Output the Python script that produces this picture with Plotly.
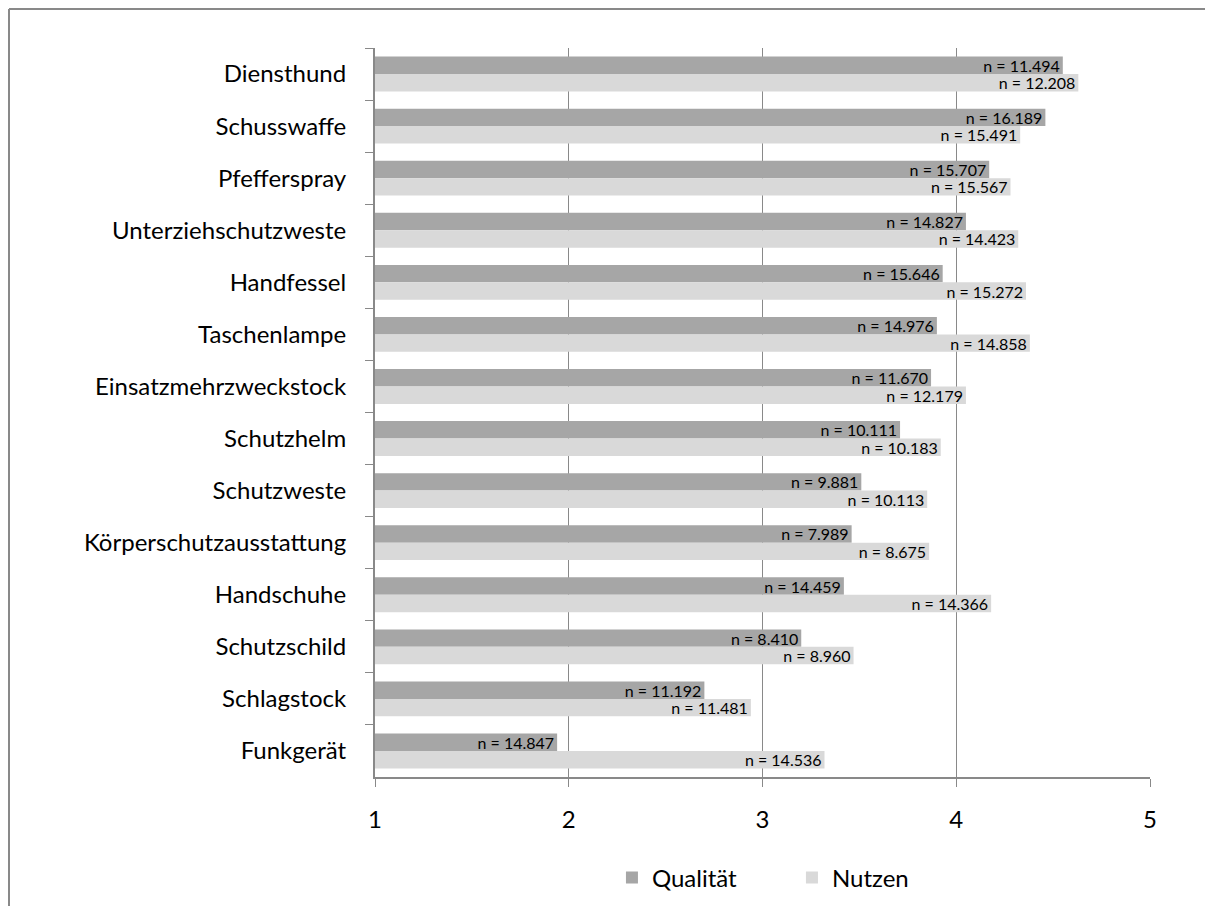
import plotly.graph_objects as go

FONT = "Lato"
GRID = "#898989"

categories = [
    "Diensthund", "Schusswaffe", "Pfefferspray", "Unterziehschutzweste", "Handfessel",
    "Taschenlampe", "Einsatzmehrzweckstock", "Schutzhelm", "Schutzweste",
    "Körperschutzausstattung", "Handschuhe", "Schutzschild", "Schlagstock", "Funkgerät",
]
qualitaet = [4.55, 4.46, 4.17, 4.05, 3.93, 3.90, 3.87, 3.71, 3.51, 3.46, 3.42, 3.20, 2.70, 1.94]
nutzen = [4.63, 4.33, 4.28, 4.32, 4.36, 4.38, 4.05, 3.92, 3.85, 3.86, 4.18, 3.47, 2.94, 3.32]
n_qualitaet = [11494, 16189, 15707, 14827, 15646, 14976, 11670, 10111, 9881, 7989, 14459, 8410, 11192, 14847]
n_nutzen = [12208, 15491, 15567, 14423, 15272, 14858, 12179, 10183, 10113, 8675, 14366, 8960, 11481, 14536]


def n_label(values):
    return [f"n = {v:,}".replace(",", ".") for v in values]


fig = go.Figure()
for name, vals, ns, color in [
    ("Qualität", qualitaet, n_qualitaet, "#a6a6a6"),
    ("Nutzen", nutzen, n_nutzen, "#d9d9d9"),
]:
    fig.add_trace(go.Bar(
        name=name, y=categories, x=vals, orientation="h",
        marker=dict(color=color, line=dict(width=0)),
        text=n_label(ns), textposition="inside", insidetextanchor="end",
        constraintext="none",
        insidetextfont=dict(family=FONT, size=16, color="#000000"),
        hoverinfo="x+y+name",
    ))

# the page body adds an 8px offset, so the figure is drawn 8px smaller
W, H = 1205, 898
L, T = 367, 40
pw, ph = 775, 729
R, B = W - L - pw, H - T - ph
fx = (1 - L) / pw
fy = 1 + (T - 1) / ph

fig.update_layout(
    width=W, height=H,
    margin=dict(l=L, r=R, t=T, b=B, autoexpand=False),
    barmode="group", bargap=0.33, bargroupgap=0,
    paper_bgcolor="#ffffff", plot_bgcolor="#ffffff",
    font=dict(family=FONT, size=24, color="#000000"),
    showlegend=True,
    legend=dict(orientation="h", x=0.538, xanchor="center", y=-0.1385,
                yanchor="middle", font=dict(size=24), traceorder="normal",
                entrywidth=135),
    shapes=[
        dict(type="line", xref="paper", yref="paper", x0=fx, x1=1 + (R + 5) / pw,
             y0=fy, y1=fy, line=dict(color=GRID, width=2)),
        dict(type="line", xref="paper", yref="paper", x0=fx, x1=fx,
             y0=fy, y1=-(B + 5) / ph, line=dict(color=GRID, width=2)),
    ],
)
fig.update_xaxes(
    range=[1, 5], tickvals=[1, 2, 3, 4, 5], showgrid=True, gridcolor=GRID, gridwidth=1,
    showline=True, linecolor=GRID, linewidth=2, ticks="outside", ticklen=8,
    tickcolor=GRID, ticklabelstandoff=12, zeroline=False, fixedrange=True,
)
fig.update_yaxes(
    autorange="reversed", showline=True, linecolor=GRID, linewidth=2,
    ticks="outside", ticklen=8, tickcolor=GRID, tickson="boundaries",
    ticklabelstandoff=22, showgrid=False,
)

fig.write_html("out.html")
